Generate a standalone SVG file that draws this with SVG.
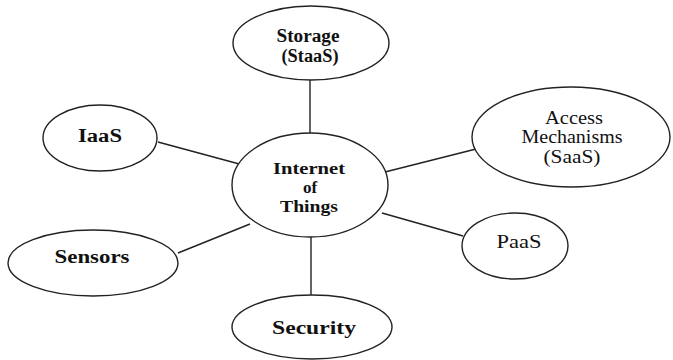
<svg xmlns="http://www.w3.org/2000/svg" width="673" height="360" viewBox="0 0 673 360">
<style>
.n{fill:#fff;stroke:#222;stroke-width:1.4}
.c line{stroke:#222;stroke-width:1.4}
text{font-family:"Liberation Serif","Times New Roman",serif;fill:#111;text-anchor:middle}
.b{font-weight:bold;font-size:18px}
.i{font-weight:bold;font-size:17px}
.r{font-size:18px}
</style>
<rect width="673" height="360" fill="#fff"/>
<g class="c" id="connectors">
<line x1="310" y1="80" x2="310" y2="133"/>
<line x1="158" y1="142" x2="243" y2="165"/>
<line x1="385" y1="172" x2="480" y2="148"/>
<line x1="178" y1="253" x2="250" y2="224"/>
<line x1="382" y1="213" x2="463" y2="236"/>
<line x1="311" y1="237" x2="311" y2="295"/>
</g>
<g id="storage"><ellipse class="n" cx="311" cy="43" rx="78" ry="37"/>
<text class="b" x="308" y="42" textLength="63" lengthAdjust="spacingAndGlyphs">Storage</text>
<text class="b" x="310" y="62" textLength="57" lengthAdjust="spacingAndGlyphs">(StaaS)</text></g>
<g id="iaas"><ellipse class="n" cx="100" cy="138" rx="57" ry="33"/>
<text class="b" x="100" y="142" textLength="44" lengthAdjust="spacingAndGlyphs">IaaS</text></g>
<g id="iot"><ellipse class="n" cx="310" cy="185" rx="78" ry="52"/>
<text class="i" x="309" y="174" textLength="72" lengthAdjust="spacingAndGlyphs">Internet</text>
<text class="i" x="310" y="193">of</text>
<text class="i" x="309" y="212" textLength="58" lengthAdjust="spacingAndGlyphs">Things</text></g>
<g id="access"><ellipse class="n" cx="571" cy="137" rx="99" ry="50"/>
<text class="r" x="574" y="124" textLength="58" lengthAdjust="spacingAndGlyphs">Access</text>
<text class="r" x="572" y="143" textLength="101" lengthAdjust="spacingAndGlyphs">Mechanisms</text>
<text class="r" x="572" y="163" textLength="57" lengthAdjust="spacingAndGlyphs">(SaaS)</text></g>
<g id="sensors"><ellipse class="n" cx="93" cy="263" rx="85" ry="33"/>
<text class="b" x="92" y="263" textLength="75" lengthAdjust="spacingAndGlyphs">Sensors</text></g>
<g id="paas"><ellipse class="n" cx="515" cy="246" rx="53" ry="33"/>
<text class="r" x="519" y="248" textLength="45" lengthAdjust="spacingAndGlyphs">PaaS</text></g>
<g id="security"><ellipse class="n" cx="312" cy="327" rx="80" ry="32"/>
<text class="b" x="314" y="334" textLength="84" lengthAdjust="spacingAndGlyphs">Security</text></g>
</svg>
